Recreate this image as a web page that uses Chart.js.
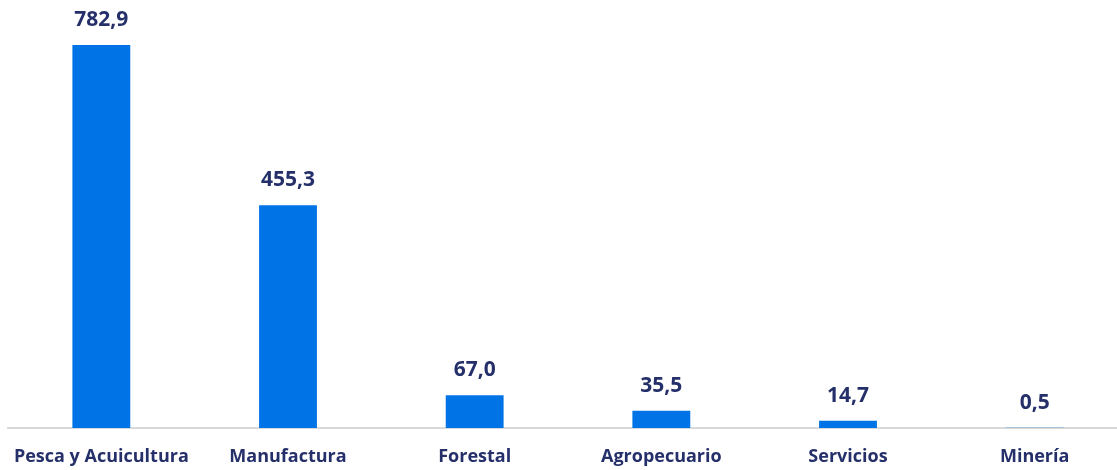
<!DOCTYPE html>
<html>
<head>
<meta charset="utf-8">
<script src="https://cdn.jsdelivr.net/npm/chart.js@4.4.1/dist/chart.umd.min.js"></script>
<style>
    html, body { margin: 0; padding: 0; background: #fff; overflow: hidden; }
    #wrap { position: absolute; left: 0; top: 0; width: 1128px; height: 470px; }
</style>
</head>
<body>
<div id="wrap"><canvas id="chart"></canvas></div>
<script>
const categories = ['Pesca y Acuicultura', 'Manufactura', 'Forestal', 'Agropecuario', 'Servicios', 'Minería'];
const values = [782.9, 455.3, 67.0, 35.5, 14.7, 0.5];

const navy = '#25306A';

// Value labels above each bar, with decimal comma
const valueLabels = {
    id: 'valueLabels',
    afterDatasetsDraw(chart) {
        const ctx = chart.ctx;
        const meta = chart.getDatasetMeta(0);
        ctx.save();
        ctx.font = "bold 21px 'Open Sans', sans-serif";
        ctx.fillStyle = navy;
        ctx.textAlign = 'center';
        ctx.textBaseline = 'alphabetic';
        meta.data.forEach((bar, i) => {
            const txt = values[i].toFixed(1).replace('.', ',');
            ctx.fillText(txt, bar.x, bar.y - 19);
        });
        ctx.restore();
    }
};

new Chart(document.getElementById('chart'), {
    type: 'bar',
    data: {
        labels: categories,
        datasets: [{
            data: values,
            backgroundColor: '#0073E6',
            barPercentage: 0.31,
            categoryPercentage: 1.0
        }]
    },
    options: {
        responsive: true,
        maintainAspectRatio: false,
        animation: false,
        layout: { padding: { left: 8, right: 0, top: 0, bottom: 0 } },
        plugins: {
            legend: { display: false },
            tooltip: { enabled: false }
        },
        scales: {
            x: {
                grid: { display: false },
                border: { display: true, color: '#D9D9D9', width: 2 },
                afterFit(scale) { scale.height = 42; },
                ticks: {
                    color: navy,
                    padding: 10,
                    maxRotation: 0,
                    font: { family: "'Open Sans', sans-serif", size: 18, weight: 'bold' }
                }
            },
            y: {
                display: false,
                min: 0,
                max: 875
            }
        }
    },
    plugins: [valueLabels]
});
</script>
</body>
</html>
